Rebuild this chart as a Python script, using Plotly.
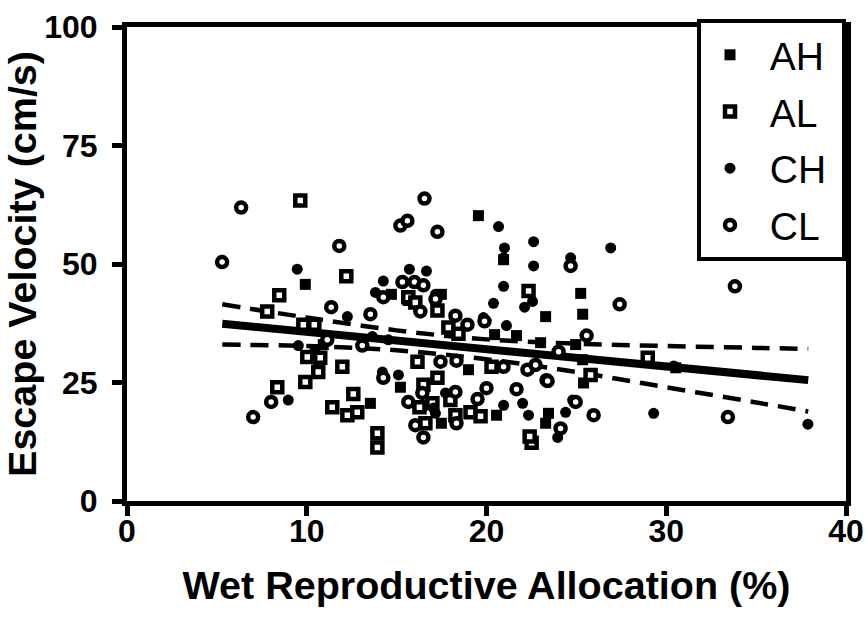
import plotly.graph_objects as go

# Wet reproductive allocation (%) and escape velocity (cm/s) per group
ah_x = [19.55, 20.95, 9.92, 25.24, 14.71, 17.49, 15.65, 25.35, 23.29, 20.45, 21.67, 23.01, 24.96,
        25.35, 25.40, 30.53, 19.00, 15.21, 13.54, 20.56, 23.45, 23.29, 17.49, 10.47, 10.92]
ah_y = [60.2, 50.9, 45.7, 43.8, 43.6, 43.6, 42.3, 39.4, 38.9, 35.1, 34.9, 33.4, 33.0,
        29.8, 24.9, 28.1, 27.7, 24.0, 20.6, 18.1, 18.5, 16.4, 16.4, 31.9, 33.0]

al_x = [9.64, 12.20, 8.47, 7.80, 22.34, 9.81, 10.42, 10.03, 10.75, 10.64, 11.98, 9.92, 8.36,
        12.59, 11.42, 12.26, 12.81, 13.93, 13.93, 15.65, 16.04, 17.27, 17.88, 18.44, 16.16,
        20.28, 17.27, 16.49, 16.27, 16.99, 17.99, 18.27, 19.11, 19.67, 16.60, 22.51, 22.40,
        28.97, 25.79]
al_y = [63.4, 47.4, 43.4, 40.0, 44.3, 37.2, 37.2, 30.4, 30.2, 27.2, 28.3, 25.1, 24.0,
        22.6, 19.8, 18.1, 18.7, 14.3, 11.3, 43.0, 41.9, 40.2, 36.6, 35.3, 29.4,
        28.3, 26.0, 24.5, 19.8, 20.6, 21.3, 18.1, 18.7, 17.9, 16.4, 12.3, 13.6,
        30.2, 26.6]

ch_x = [9.47, 13.82, 12.26, 9.53, 8.97, 20.67, 22.62, 21.00, 20.95, 22.62, 20.95, 22.56, 20.39,
        22.12, 19.83, 21.11, 14.26, 15.71, 16.66, 17.16, 15.10, 14.21, 17.05, 17.72, 20.95,
        22.01, 22.34, 26.91, 24.68, 24.40, 23.96, 29.30, 37.88, 24.79, 17.16, 16.43, 13.65,
        14.54, 30.42]
ch_y = [48.9, 44.0, 38.9, 32.8, 21.3, 57.9, 54.7, 53.4, 51.3, 49.6, 45.3, 42.1, 41.7,
        40.9, 38.7, 37.0, 46.4, 48.9, 48.5, 43.6, 26.6, 27.2, 19.6, 22.8, 20.2,
        20.6, 18.1, 53.4, 51.3, 18.7, 13.4, 18.5, 16.2, 21.3, 18.5, 22.8, 34.7,
        34.0, 28.5]

cl_x = [5.29, 6.35, 7.02, 8.02, 11.81, 11.36, 13.54, 11.14, 13.09, 16.55, 15.21, 15.60, 17.27,
        15.32, 15.99, 16.49, 14.26, 17.16, 18.27, 16.32, 19.89, 18.94, 24.68, 27.41, 33.82,
        25.57, 24.01, 23.34, 25.96, 33.43, 24.12, 24.96, 17.44, 18.33, 20.95, 22.28, 22.73,
        23.40, 14.26, 16.43, 15.65, 18.27, 19.50, 20.00, 21.67, 16.04, 18.33, 16.49]
cl_y = [50.4, 61.9, 17.7, 20.9, 53.8, 40.9, 39.4, 34.0, 32.8, 63.8, 58.1, 59.1, 56.8,
        46.2, 46.2, 45.5, 43.0, 42.6, 39.1, 40.0, 37.9, 37.2, 49.6, 41.5, 45.3,
        34.9, 31.5, 25.5, 18.1, 17.7, 15.3, 20.9, 29.4, 29.6, 28.3, 27.7, 28.7,
        25.3, 26.0, 22.8, 20.9, 23.0, 21.5, 23.8, 23.6, 16.0, 16.4, 13.4]

# Linear fit and its 95% confidence band
fit_x = [5.3, 37.9]
fit_y = [37.4, 25.5]
ci_x = [5.3, 10, 15, 20, 25, 30, 35, 37.9]
ci_upper = [41.5, 38.7, 36.0, 34.1, 33.2, 32.7, 32.3, 32.1]
ci_lower = [33.0, 32.7, 31.8, 29.9, 27.2, 24.0, 20.8, 18.9]

FONT = "Liberation Sans, Arial, sans-serif"
NBSP = "\u00a0"  # spacing around legend labels

fig = go.Figure()

dash_style = dict(color="black", width=4.5, dash="18px,10px", shape="spline")
fig.add_trace(go.Scatter(x=ci_x, y=ci_upper, mode="lines", line=dash_style,
                         showlegend=False, hoverinfo="skip"))
fig.add_trace(go.Scatter(x=ci_x, y=ci_lower, mode="lines", line=dash_style,
                         showlegend=False, hoverinfo="skip"))
fig.add_trace(go.Scatter(x=fit_x, y=fit_y, mode="lines",
                         line=dict(color="black", width=8),
                         showlegend=False, hoverinfo="skip"))

filled = dict(color="black", size=11, line=dict(width=0))
hollow = dict(color="white", size=10, line=dict(color="black", width=4.5))

groups = [
    ("AH", ah_x, ah_y, "square", filled),
    ("AL", al_x, al_y, "square", hollow),
    ("CH", ch_x, ch_y, "circle", filled),
    ("CL", cl_x, cl_y, "circle", hollow),
]
for label, xs, ys, symbol, style in groups:
    fig.add_trace(go.Scatter(x=xs, y=ys, mode="markers",
                             name=NBSP + label + NBSP, legendgroup=label,
                             marker=dict(symbol=symbol, **style)))

axis_common = dict(
    showgrid=False, zeroline=False, showline=True, linecolor="black", linewidth=5,
    mirror=True, ticks="outside", ticklen=10, tickwidth=5, tickcolor="black",
    automargin=False,
    tickfont=dict(family=FONT, size=32, color="black", weight="bold"),
)
title_font = dict(family=FONT, size=39.5, color="black", weight="bold")

fig.update_xaxes(range=[0, 40], tickvals=[0, 10, 20, 30, 40], ticklabelstandoff=-12,
                 title=dict(text="Wet Reproductive Allocation (%)", standoff=24,
                            font=title_font),
                 **axis_common)
fig.update_yaxes(range=[0, 100], tickvals=[0, 25, 50, 75, 100], ticklabelstandoff=8,
                 title=dict(text="Escape Velocity (cm/s)", standoff=12,
                            font=title_font),
                 **axis_common)

fig.update_layout(
    width=866, height=621,
    margin=dict(l=127, r=20, t=27, b=120),
    plot_bgcolor="white", paper_bgcolor="white",
    legend=dict(x=1, y=1.017, xanchor="right", yanchor="top",
                bgcolor="white", bordercolor="black", borderwidth=4,
                font=dict(family=FONT, size=39, color="black"),
                itemwidth=48,
                traceorder="grouped", tracegroupgap=3),
)

fig.write_html("out.html")
